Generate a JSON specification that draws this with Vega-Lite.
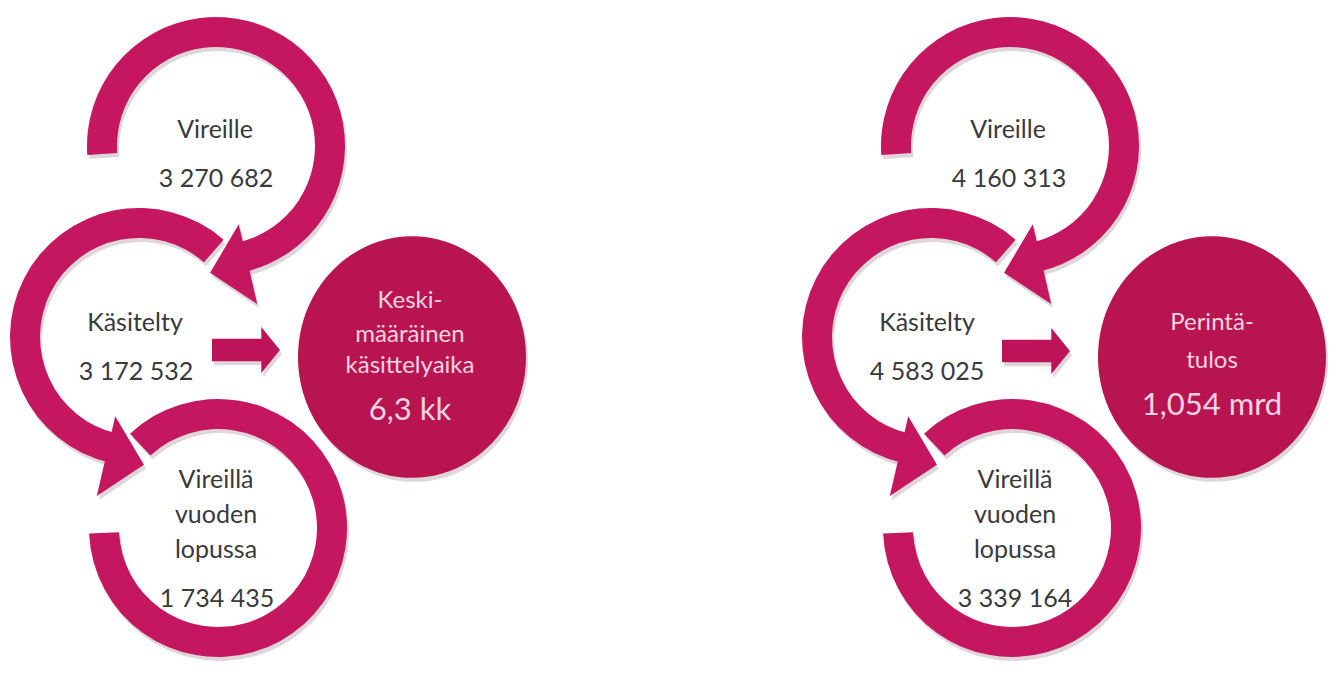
{
  "$schema": "https://vega.github.io/schema/vega-lite/v6.json",
  "width": 1330,
  "height": 673,
  "padding": 0,
  "autosize": {"type": "fit", "contains": "padding"},
  "background": "white",
  "config": {"view": {"stroke": null}},
  "datasets": {
    "rings": [
      {"fig": "L", "ring": "Vireille", "x": 216, "y": 146, "t1": -1.6406, "t2": 2.9147},
      {"fig": "L", "ring": "Käsitelty", "x": 139, "y": 337, "t1": -2.9147, "t2": 0.7156},
      {"fig": "L", "ring": "Vireillä vuoden lopussa", "x": 218, "y": 528, "t1": -0.7505, "t2": 4.6688},
      {"fig": "R", "ring": "Vireille", "x": 1010, "y": 146, "t1": -1.6406, "t2": 2.9147},
      {"fig": "R", "ring": "Käsitelty", "x": 931, "y": 337, "t1": -2.9147, "t2": 0.7156},
      {"fig": "R", "ring": "Vireillä vuoden lopussa", "x": 1012, "y": 528, "t1": -0.7505, "t2": 4.6688}
    ],
    "heads": [
      {"fig": "L", "from": "Vireille", "x": 244, "y": 265, "a": 257},
      {"fig": "L", "from": "Käsitelty", "x": 110, "y": 457, "a": 103},
      {"fig": "R", "from": "Vireille", "x": 1038, "y": 265, "a": 257},
      {"fig": "R", "from": "Käsitelty", "x": 903, "y": 457, "a": 103}
    ],
    "blocks": [
      {"fig": "L", "x": 246, "y": 350},
      {"fig": "R", "x": 1036, "y": 351}
    ],
    "discs": [
      {"fig": "L", "x": 412, "y": 357},
      {"fig": "R", "x": 1212, "y": 357}
    ],
    "labels": [
      {"role": "ring", "text": "Vireille", "x": 215, "y": 138},
      {"role": "ring", "text": "3 270 682", "x": 216, "y": 187},
      {"role": "ring", "text": "Käsitelty", "x": 135, "y": 331},
      {"role": "ring", "text": "3 172 532", "x": 136, "y": 380},
      {"role": "ring", "text": "Vireillä", "x": 216, "y": 488},
      {"role": "ring", "text": "vuoden", "x": 216, "y": 523},
      {"role": "ring", "text": "lopussa", "x": 216, "y": 558},
      {"role": "ring", "text": "1 734 435", "x": 217, "y": 607},
      {"role": "ring", "text": "Vireille", "x": 1008, "y": 138},
      {"role": "ring", "text": "4 160 313", "x": 1009, "y": 187},
      {"role": "ring", "text": "Käsitelty", "x": 927, "y": 331},
      {"role": "ring", "text": "4 583 025", "x": 927, "y": 380},
      {"role": "ring", "text": "Vireillä", "x": 1015, "y": 488},
      {"role": "ring", "text": "vuoden", "x": 1015, "y": 523},
      {"role": "ring", "text": "lopussa", "x": 1015, "y": 558},
      {"role": "ring", "text": "3 339 164", "x": 1015, "y": 607},
      {"role": "disc", "text": "Keski-", "x": 410, "y": 308},
      {"role": "disc", "text": "määräinen", "x": 410, "y": 342},
      {"role": "disc", "text": "käsittelyaika", "x": 410, "y": 373},
      {"role": "discval", "text": "6,3 kk", "x": 410, "y": 420},
      {"role": "disc", "text": "Perintä-", "x": 1212, "y": 330},
      {"role": "disc", "text": "tulos", "x": 1212, "y": 368},
      {"role": "discval", "text": "1,054 mrd", "x": 1212, "y": 415}
    ]
  },
  "encoding": {
    "x": {"field": "x", "type": "quantitative", "scale": {"domain": [0, 1330], "nice": false, "zero": false}, "axis": null},
    "y": {"field": "y", "type": "quantitative", "scale": {"domain": [0, 673], "nice": false, "zero": false, "reverse": true}, "axis": null}
  },
  "layer": [
    {
      "data": {"name": "discs"},
      "mark": {"type": "point", "shape": "M-1,0 A1,1.06 0 1,1 1,0 A1,1.06 0 1,1 -1,0 Z", "size": 51984, "filled": true, "opacity": 0.22, "color": "#6b4450", "xOffset": 2, "yOffset": 4}
    },
    {
      "data": {"name": "rings"},
      "mark": {"type": "arc", "radius": 129, "radius2": 99, "color": "#6b4450", "opacity": 0.22, "xOffset": 2, "yOffset": 4},
      "encoding": {
        "theta": {"field": "t1", "type": "quantitative", "scale": null, "stack": null},
        "theta2": {"field": "t2"}
      }
    },
    {
      "data": {"name": "heads"},
      "mark": {"type": "point", "shape": "M-1,0.1 L1,0.1 L0,-0.85 Z", "size": 6724, "filled": true, "opacity": 0.22, "color": "#6b4450", "xOffset": 2, "yOffset": 4},
      "encoding": {
        "angle": {"field": "a", "type": "quantitative", "scale": null}
      }
    },
    {
      "data": {"name": "blocks"},
      "mark": {"type": "point", "shape": "M-1,-0.33 L0.45,-0.33 L0.45,-0.68 L1,0 L0.45,0.68 L0.45,0.33 L-1,0.33 Z", "size": 4624, "filled": true, "opacity": 0.22, "color": "#6b4450", "xOffset": 2, "yOffset": 4}
    },
    {
      "data": {"name": "discs"},
      "mark": {"type": "point", "shape": "M-1,0 A1,1.06 0 1,1 1,0 A1,1.06 0 1,1 -1,0 Z", "size": 51984, "filled": true, "opacity": 1, "color": "#b8144f"}
    },
    {
      "data": {"name": "rings"},
      "mark": {"type": "arc", "radius": 129, "radius2": 99, "color": "#c51760"},
      "encoding": {
        "theta": {"field": "t1", "type": "quantitative", "scale": null, "stack": null},
        "theta2": {"field": "t2"}
      }
    },
    {
      "data": {"name": "heads"},
      "mark": {"type": "point", "shape": "M-1,0.1 L1,0.1 L0,-0.85 Z", "size": 6724, "filled": true, "opacity": 1, "color": "#c51760"},
      "encoding": {
        "angle": {"field": "a", "type": "quantitative", "scale": null}
      }
    },
    {
      "data": {"name": "blocks"},
      "mark": {"type": "point", "shape": "M-1,-0.33 L0.45,-0.33 L0.45,-0.68 L1,0 L0.45,0.68 L0.45,0.33 L-1,0.33 Z", "size": 4624, "filled": true, "opacity": 1, "color": "#bd1459"}
    },
    {
      "data": {"name": "labels"},
      "transform": [{"filter": "datum.role === 'ring'"}],
      "mark": {"type": "text", "font": "Lato", "fontSize": 25, "color": "#3a3a3a", "align": "center", "baseline": "alphabetic"},
      "encoding": {"text": {"field": "text", "type": "nominal"}}
    },
    {
      "data": {"name": "labels"},
      "transform": [{"filter": "datum.role === 'disc'"}],
      "mark": {"type": "text", "font": "Lato", "fontSize": 24, "color": "#f8d3e3", "align": "center", "baseline": "alphabetic"},
      "encoding": {"text": {"field": "text", "type": "nominal"}}
    },
    {
      "data": {"name": "labels"},
      "transform": [{"filter": "datum.role === 'discval'"}],
      "mark": {"type": "text", "font": "Lato", "fontSize": 31, "color": "#f8d3e3", "align": "center", "baseline": "alphabetic"},
      "encoding": {"text": {"field": "text", "type": "nominal"}}
    }
  ]
}
